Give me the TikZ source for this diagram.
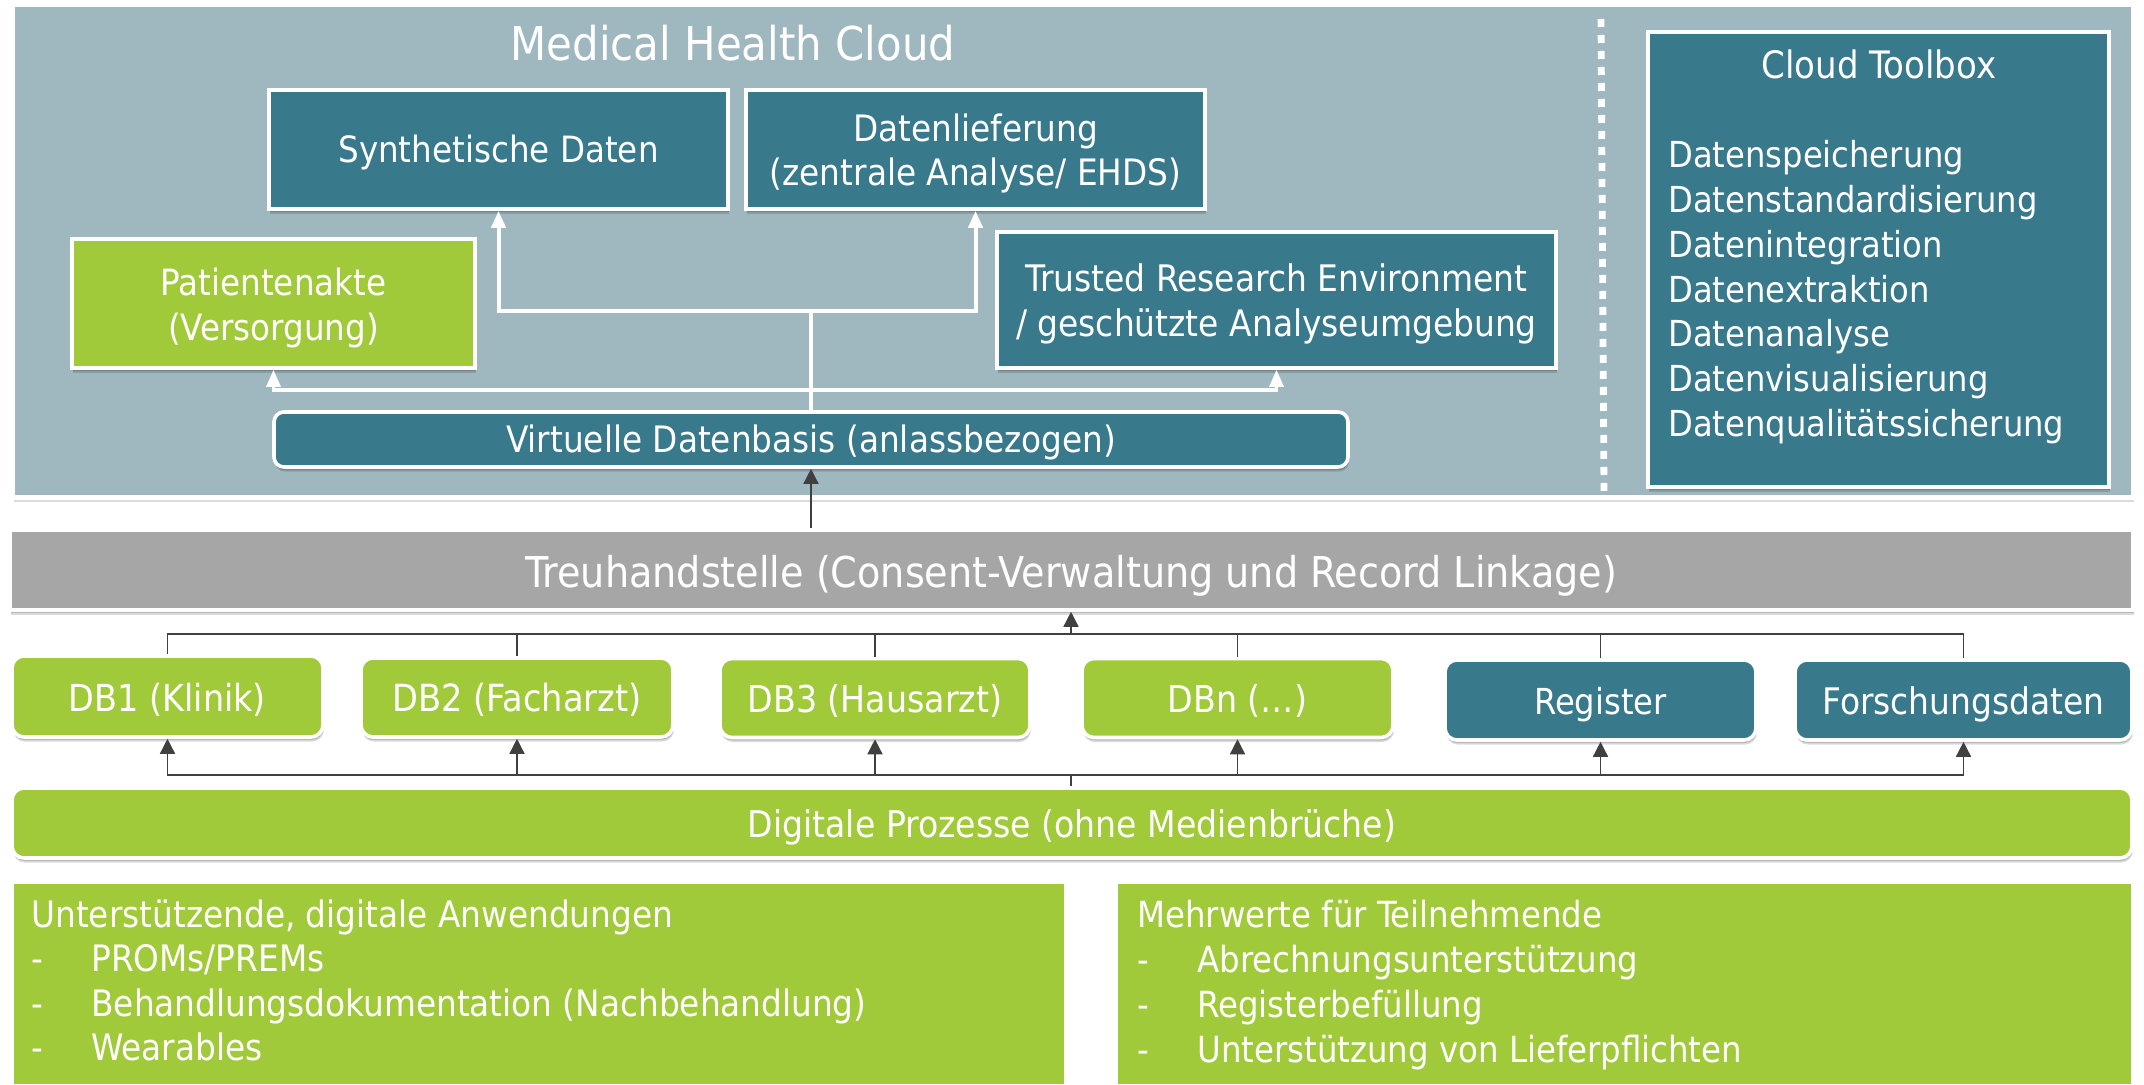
\documentclass[tikz,border=0pt]{standalone}
\usepackage{fontspec}
\setmainfont{DejaVu Sans Condensed}
\usetikzlibrary{arrows.meta,shadows,calc}
\definecolor{teal}{HTML}{38798C}
\definecolor{panelc}{HTML}{9FB7BE}
\definecolor{greenc}{HTML}{A1CA3A}
\definecolor{greyc}{HTML}{A6A6A6}
\definecolor{darkl}{HTML}{404040}
\newcommand{\bt}[2][2.2pt]{\raisebox{-#1}[\height][\depth]{\begin{tabular}{@{}c@{}}#2\end{tabular}}}
\tikzset{
  wh/.style 2 args={minimum width=#1*0.5pt,minimum height=#2*0.5pt},
  softshadow/.style={
    drop shadow={shadow xshift=0.2pt,shadow yshift=-0.7pt,opacity=.16,fill=black},
    drop shadow={shadow xshift=0.35pt,shadow yshift=-1.5pt,opacity=.16,fill=black},
    drop shadow={shadow xshift=0.5pt,shadow yshift=-2.3pt,opacity=.14,fill=black}},
  box/.style={draw=white,line width=1.8pt,fill=#1,text=white,align=center,inner sep=0pt,softshadow},
  rbox/.style={box=#1,rounded corners=6pt},
  flatbox/.style={draw=white,line width=1pt,fill=#1,inner sep=0pt,
    drop shadow={shadow xshift=0pt,shadow yshift=-0.5pt,opacity=.10,fill=black}},
  lbl/.style={text=white,inner sep=0pt},
  sz/.style={font=\fontsize{#1pt}{22.4pt}\selectfont},
  listline/.style={lbl,sz=#1,anchor=base west},
  listline/.default=18.1,
  whitearrow/.style={draw=white,line width=2pt,-{Triangle[length=8.5pt,width=7pt]}},
  whiteline/.style={draw=white,line width=2pt},
  darkarrow/.style={draw=darkl,line width=.75pt,-{Triangle[length=7.5pt,width=7.5pt]}},
  darkline/.style={draw=darkl,line width=.75pt},
}
\begin{document}
\begin{tikzpicture}[x=0.5pt,y=-0.5pt]
\useasboundingbox (0,0) rectangle (2144,1085);
\fill[white] (0,0) rectangle (2144,1085);
% cloud panel
\node[box=panelc,line width=2.4pt,wh={2120}{493}] (panel) at (1073,251) {};
\node[lbl,anchor=base,font=\fontsize{23.3pt}{28pt}\selectfont] (title) at (733,61) {Medical Health Cloud};
\node[box=teal,sz=18.1,wh={459}{119}] (synth) at (498.5,149.5) {\bt{Synthetische Daten}};
\node[box=teal,sz=18.2,wh={459}{119}] (daten) at (975.5,149.5) {\bt[2.5pt]{Datenlieferung\\(zentrale Analyse/ EHDS)}};
\node[box=greenc,sz=18.1,wh={403}{129}] (patient) at (273.5,303.5) {\bt[2.9pt]{Patientenakte\\(Versorgung)}};
\node[box=teal,sz=18.3,wh={559}{136}] (tre) at (1276.5,300) {\bt[2.5pt]{Trusted Research Environment\\/ geschützte Analyseumgebung}};
\node[rbox=teal,sz=18.2,wh={1074}{55},rounded corners=5pt] (virt) at (811,439.5) {\bt{Virtuelle Datenbasis (anlassbezogen)}};
% dotted divider
\coordinate (divtop) at (1601,19);
\coordinate (divbot) at (1604,491);
\draw[draw=white,line width=3.4pt,dash pattern=on 4pt off 4pt] (divtop) -- (divbot);
% toolbox
\node[box=teal,wh={461}{455}] (toolbox) at (1878.5,259.5) {};
\node[lbl,anchor=base,sz=18.9] (tbt) at (1879,79) {Cloud Toolbox};
\node[listline=17.9] (tb1) at (1668,168) {Datenspeicherung};
\node[listline=17.9] (tb2) at (1668,213) {Datenstandardisierung};
\node[listline=17.9] (tb3) at (1668,258) {Datenintegration};
\node[listline=17.9] (tb4) at (1668,303) {Datenextraktion};
\node[listline=17.9] (tb5) at (1668,347) {Datenanalyse};
\node[listline=17.9] (tb6) at (1668,392) {Datenvisualisierung};
\node[listline=17.9] (tb7) at (1668,437) {Datenqualitätssicherung};
% Treuhandstelle
\node[box=greyc,wh={2123}{80},font=\fontsize{21.2pt}{27pt}\selectfont] (treu) at (1071.5,570) {\bt[3.1pt]{Treuhandstelle (Consent-Verwaltung und Record Linkage)}};
% data sources
\node[rbox=greenc,sz=18.6,wh={311}{81}] (db1) at (167.5,696.5) {\bt[2.9pt]{DB1 (Klinik)}};
\node[rbox=greenc,sz=18.7,wh={312}{79}] (db2) at (517,697.5) {\bt[2.7pt]{DB2 (Facharzt)}};
\node[rbox=greenc,sz=18.5,wh={310}{79}] (db3) at (875,698) {\bt[2.7pt]{DB3 (Hausarzt)}};
\node[rbox=greenc,sz=18.5,wh={311}{79}] (dbn) at (1237.5,698) {\bt[2.7pt]{DBn (…)}};
\node[rbox=teal,sz=17.9,wh={311}{80}] (reg) at (1600.5,700) {\bt[2.7pt]{Register}};
\node[rbox=teal,sz=18.3,wh={337}{80}] (fd) at (1963.5,700) {\bt[2.7pt]{Forschungsdaten}};
% Digitale Prozesse
\node[rbox=greenc,sz=18.4,wh={2120}{70}] (digi) at (1072,823) {\bt[2.7pt]{Digitale Prozesse (ohne Medienbrüche)}};
% bottom boxes
\node[flatbox=greenc,wh={1052}{202}] (app) at (539,983.5) {};
\node[flatbox=greenc,wh={1015}{202}] (mw) at (1624.5,983.5) {};
\node[listline=18.2] (a0) at (31,927) {Unterstützende, digitale Anwendungen};
\node[listline=18.2] (ad1) at (31,971.5) {-};
\node[listline=18.2] (a1) at (91,971.5) {PROMs/PREMs};
\node[listline=18.2] (ad2) at (31,1016) {-};
\node[listline=18.2] (a2) at (91,1016) {Behandlungsdokumentation (Nachbehandlung)};
\node[listline=18.2] (ad3) at (31,1060.5) {-};
\node[listline=18.2] (a3) at (91,1060.5) {Wearables};
\node[listline=18] (m0) at (1137,927) {Mehrwerte für Teilnehmende};
\node[listline=18] (md1) at (1137,972.5) {-};
\node[listline=18] (m1) at (1197,972.5) {Abrechnungsunterstützung};
\node[listline=18] (md2) at (1137,1017) {-};
\node[listline=18] (m2) at (1197,1017) {Registerbefüllung};
\node[listline=18] (md3) at (1137,1062) {-};
\node[listline=18] (m3) at (1197,1062) {Unterstützung von Lieferpflichten};
% white connectors in the cloud
\coordinate (upj) at (811,311);
\coordinate (loj) at (811,390);
\draw[whiteline] (virt.north) -- (upj);
\draw[whitearrow] (upj) -| (synth.south);
\draw[whitearrow] (upj) -| (daten.south);
\draw[whitearrow,line width=1.6pt] (loj) -| (patient.south);
\draw[whitearrow,line width=1.6pt] (loj) -| (tre.south);
% dark connectors
\draw[darkarrow] (virt.south |- treu.north) -- (virt.south);
\coordinate (topbus) at (1071,634);
\coordinate (lowbus) at (1071,775);
\draw[darkarrow] (topbus) -- (topbus |- treu.south);
\foreach \n in {db1,db2,db3,dbn,reg,fd}{
  \draw[darkline] (\n.north) |- (topbus);
  \draw[darkarrow] (lowbus) -| (\n.south);
}
\draw[darkline,line width=1.2pt] (lowbus |- digi.north) -- (lowbus);
\end{tikzpicture}
\end{document}
